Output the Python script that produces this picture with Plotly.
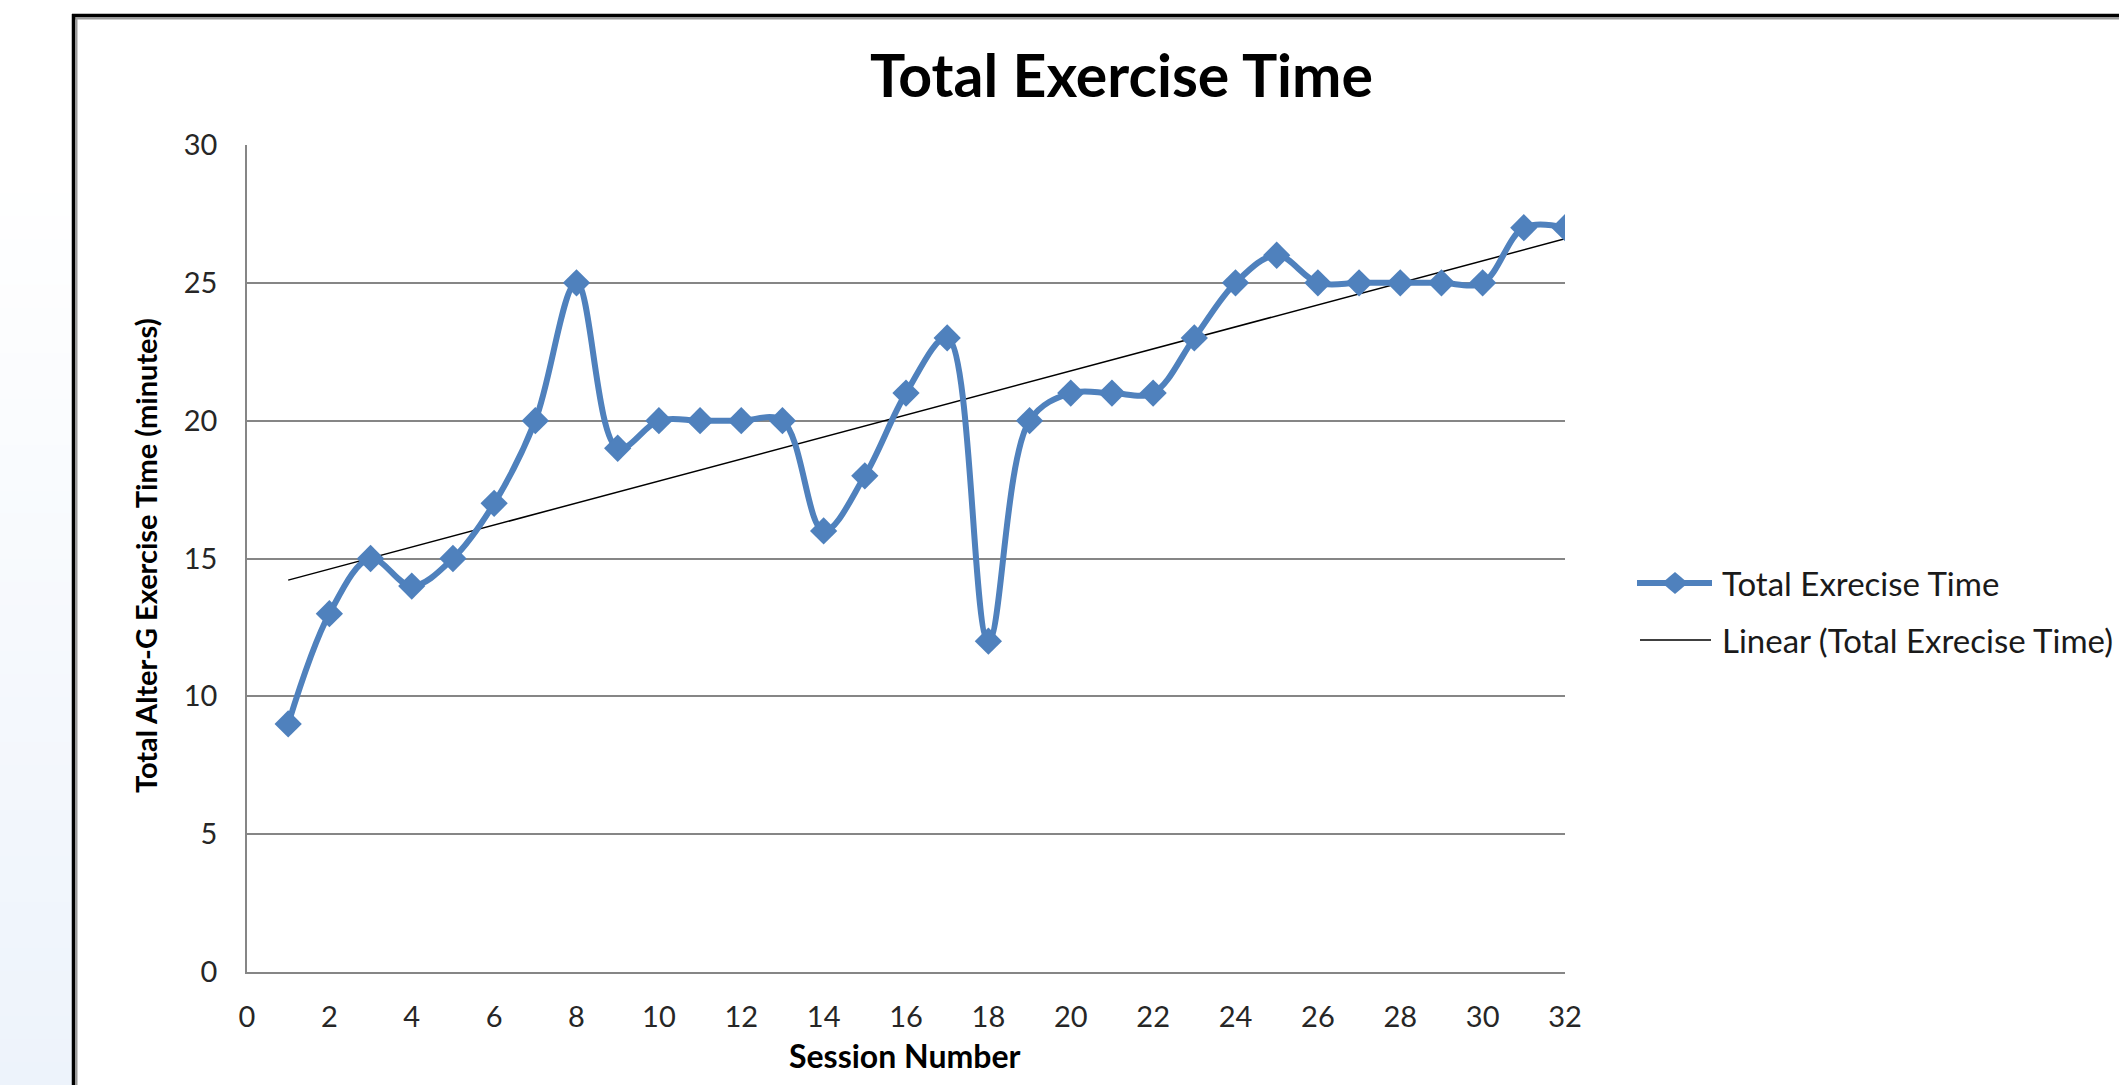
import numpy as np
import plotly.graph_objects as go

# Session data
sessions = list(range(1, 33))
exercise_minutes = [9, 13, 15, 14, 15, 17, 20, 25, 19, 20, 20, 20, 20, 16, 18, 21,
                    23, 12, 20, 21, 21, 21, 23, 25, 26, 25, 25, 25, 25, 25, 27, 27]
x_ticks = list(range(0, 33, 2))
y_ticks = list(range(0, 31, 5))

series_name = "Total Exrecise Time"
trend_name = "Linear (Total Exrecise Time)"

# Least-squares trend line over the sessions
slope, intercept = np.polyfit(sessions, exercise_minutes, 1)
trend_x = [sessions[0], sessions[-1]]
trend_y = [slope * v + intercept for v in trend_x]

W, H = 2119, 1085
L, R, T, B = 247, 1565, 145, 972
BLUE = "#4F81BD"
GRID = "#868686"
FONT = "Lato, 'Open Sans', sans-serif"


def px(p):
    return (p - L) / (R - L)


def py(q):
    return (B - q) / (B - T)


fig = go.Figure()

fig.add_trace(go.Scatter(
    x=trend_x, y=trend_y, mode="lines",
    line=dict(color="#000000", width=1.5),
    showlegend=False, hoverinfo="skip",
))
fig.add_trace(go.Scatter(
    x=sessions, y=exercise_minutes, mode="lines+markers",
    line=dict(color=BLUE, width=6, shape="spline", smoothing=1),
    marker=dict(symbol="diamond", size=21, color=BLUE),
    showlegend=False,
))

shapes = []

# Soft blue gradient strip along the left edge
n_bands = 40
top_c = np.array([255, 255, 255])
bot_c = np.array([237, 243, 251])
y0, y1 = 170, H
for i in range(n_bands):
    t = (i + 0.5) / n_bands
    c = (top_c + (bot_c - top_c) * t).round().astype(int)
    ya = y0 + (y1 - y0) * i / n_bands
    yb = y0 + (y1 - y0) * (i + 1) / n_bands + 1
    shapes.append(dict(type="rect", xref="paper", yref="paper",
                       x0=px(0), x1=px(72), y0=py(yb), y1=py(ya),
                       fillcolor=f"rgb({c[0]},{c[1]},{c[2]})", line=dict(width=0), layer="below"))

# Chart frame (left and top edges with a light shadow)
shapes += [
    dict(type="line", xref="paper", yref="paper", x0=px(76.5), x1=px(76.5), y0=py(18), y1=py(H + 5),
         line=dict(color="#9a9a9a", width=2)),
    dict(type="line", xref="paper", yref="paper", x0=px(75), x1=px(W + 5), y0=py(18.5), y1=py(18.5),
         line=dict(color="#9a9a9a", width=2)),
    dict(type="line", xref="paper", yref="paper", x0=px(73.5), x1=px(73.5), y0=py(14), y1=py(H + 5),
         line=dict(color="#000000", width=3.5)),
    dict(type="line", xref="paper", yref="paper", x0=px(72), x1=px(W + 5), y0=py(15.5), y1=py(15.5),
         line=dict(color="#000000", width=3.5)),
]

# Legend entries
leg_y1, leg_y2 = 583, 640
shapes += [
    dict(type="line", xref="paper", yref="paper", x0=px(1637), x1=px(1712), y0=py(leg_y1), y1=py(leg_y1),
         line=dict(color=BLUE, width=6)),
    dict(type="path", xref="paper", yref="paper",
         path=(f"M {px(1675 - 13)},{py(leg_y1)} L {px(1675)},{py(leg_y1 - 11)} "
               f"L {px(1675 + 13)},{py(leg_y1)} L {px(1675)},{py(leg_y1 + 11)} Z"),
         fillcolor=BLUE, line=dict(width=0)),
    dict(type="line", xref="paper", yref="paper", x0=px(1640), x1=px(1711), y0=py(leg_y2), y1=py(leg_y2),
         line=dict(color="#000000", width=1.5)),
]

annotations = [
    dict(text="<b>Total Exercise Time</b>", xref="paper", yref="paper", x=px(1121), y=py(74),
         xanchor="center", yanchor="middle", showarrow=False,
         font=dict(family=FONT, size=59, color="#000000")),
    dict(text="<b>Total Alter-G Exercise Time (minutes)</b>", xref="paper", yref="paper",
         x=px(145), y=py(556), textangle=-90, xanchor="center", yanchor="middle", showarrow=False,
         font=dict(family=FONT, size=29, color="#000000")),
    dict(text="<b>Session Number</b>", xref="paper", yref="paper", x=px(905), y=py(1055),
         xanchor="center", yanchor="middle", showarrow=False,
         font=dict(family=FONT, size=32, color="#000000")),
    dict(text=series_name, xref="paper", yref="paper", x=px(1720), y=py(leg_y1),
         xanchor="left", yanchor="middle", showarrow=False,
         font=dict(family=FONT, size=33, color="#1a1a1a")),
    dict(text=trend_name, xref="paper", yref="paper", x=px(1720), y=py(leg_y2),
         xanchor="left", yanchor="middle", showarrow=False,
         font=dict(family=FONT, size=33, color="#1a1a1a")),
]

fig.update_layout(
    width=W, height=H,
    margin=dict(l=L, r=W - R, t=T, b=H - B, pad=0),
    paper_bgcolor="#ffffff", plot_bgcolor="#ffffff",
    shapes=shapes, annotations=annotations,
    showlegend=False,
    xaxis=dict(range=[0, 32], tickvals=x_ticks, ticktext=[str(v) for v in x_ticks],
               showgrid=False, zeroline=False, showline=True, linecolor=GRID, linewidth=1.5,
               ticks="", ticklabelstandoff=18,
               tickfont=dict(family=FONT, size=29, color="#262626")),
    yaxis=dict(range=[0, 30], tickvals=y_ticks, ticktext=[str(v) for v in y_ticks],
               showgrid=True, gridcolor=GRID, gridwidth=1.5, zeroline=False,
               showline=True, linecolor=GRID, linewidth=1.5, ticks="", ticklabelstandoff=22,
               tickfont=dict(family=FONT, size=29, color="#262626")),
)

fig.write_html("out.html")
